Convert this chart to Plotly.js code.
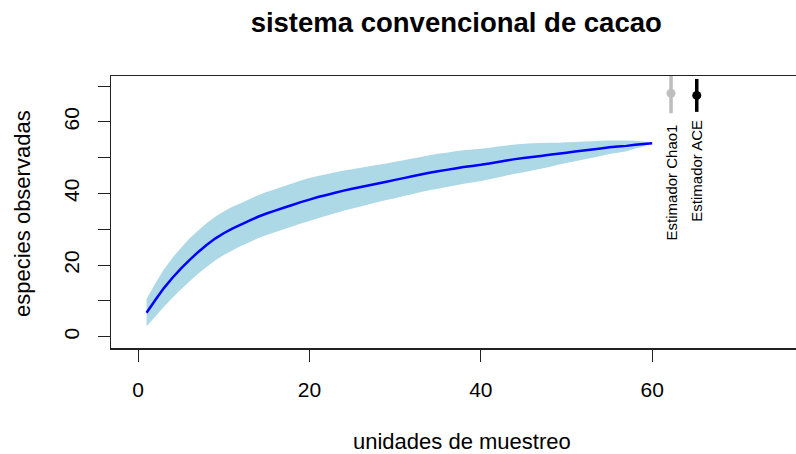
<!DOCTYPE html>
<html>
<head>
<meta charset="utf-8">
<script src="https://cdn.plot.ly/plotly-3.0.1.min.js"></script>
<style>
  html, body { margin: 0; padding: 0; background: #ffffff; }
  #plot { width: 796px; height: 454px; }
</style>
</head>
<body>
<div id="plot"></div>
<script>
// Species accumulation: sampling units, mean richness and its standard deviation
const sites = [1,2,3,4,5,6,7,8,9,10,11,12,13,14,15,16,17,18,19,20,
  21,22,23,24,25,26,27,28,29,30,31,32,33,34,35,36,37,38,39,40,
  41,42,43,44,45,46,47,48,49,50,51,52,53,54,55,56,57,58,59,60];

const richness = [6.7,10.2,13.5,16.4,19.0,21.4,23.6,25.6,27.4,28.9,
  30.2,31.3,32.4,33.5,34.4,35.2,36.0,36.8,37.6,38.3,
  39.0,39.6,40.2,40.8,41.3,41.8,42.3,42.8,43.3,43.8,
  44.3,44.8,45.3,45.8,46.2,46.6,47.0,47.4,47.7,48.0,
  48.4,48.8,49.2,49.6,49.9,50.2,50.5,50.8,51.1,51.4,
  51.7,52.0,52.3,52.6,52.9,53.1,53.3,53.6,53.8,54.0];

const sd = [1.9,2.3,2.6,2.8,2.9,3.0,3.0,3.05,3.05,3.05,
  3.05,3.0,3.0,3.0,3.0,3.0,3.0,3.0,3.0,3.0,
  2.95,2.9,2.85,2.8,2.75,2.7,2.65,2.6,2.55,2.55,
  2.5,2.5,2.45,2.45,2.45,2.4,2.4,2.35,2.3,2.25,
  2.2,2.15,2.1,2.05,2.0,1.9,1.8,1.7,1.55,1.45,
  1.35,1.25,1.15,1.05,0.95,0.85,0.75,0.55,0.35,0.0];

// Richness estimators: position on the x axis, estimate and error half-width
const estNames = ["Estimador Chao1", "Estimador ACE"];
const estX = [62.2, 65.2];
const estValue = [68.0, 67.4];
const estError = [5.6, 4.6];
const estColors = ["#bebebe", "#000000"];
const estLabelY = [43.1, 46.3];

const xTicks = [0, 20, 40, 60];
const yTicks = [0, 10, 20, 30, 40, 50, 60, 70];
const yTickText = ["0", "", "20", "", "40", "", "60", ""];

const FONT = "Liberation Sans, Arial, sans-serif";

const lower = richness.map((v, i) => v - 2 * sd[i]);
const upper = richness.map((v, i) => v + 2 * sd[i]);

const traces = [
  { x: sites, y: lower, type: "scatter", mode: "lines",
    line: { width: 0, color: "rgba(0,0,0,0)", simplify: false },
    hoverinfo: "skip", showlegend: false },
  { x: sites, y: upper, type: "scatter", mode: "lines", fill: "tonexty",
    fillcolor: "#add8e6", line: { width: 0, color: "rgba(0,0,0,0)", simplify: false },
    hoverinfo: "skip", showlegend: false },
  { x: sites, y: richness, type: "scatter", mode: "lines",
    line: { color: "#0000ff", width: 2.5, simplify: false },
    hoverinfo: "skip", showlegend: false }
];

estNames.forEach((name, i) => {
  traces.push({
    x: [estX[i]], y: [estValue[i]], type: "scatter", mode: "markers",
    marker: { color: estColors[i], size: 9 },
    error_y: { type: "data", array: [estError[i]], visible: true,
      color: estColors[i], thickness: 3.5, width: 0 },
    hoverinfo: "skip", showlegend: false, cliponaxis: true
  });
});

const annotations = estNames.map((name, i) => ({
  text: name, x: estX[i], y: estLabelY[i], xref: "x", yref: "y",
  textangle: -90, showarrow: false, xanchor: "center", yanchor: "middle",
  font: { family: FONT, size: 15, color: "#000" }
}));

annotations.push({
  text: "unidades de muestreo", xref: "paper", yref: "paper",
  x: 0.513, y: -0.345, xanchor: "center", yanchor: "middle", showarrow: false,
  font: { family: FONT, size: 22, color: "#000" }
});
annotations.push({
  text: "especies observadas", xref: "paper", yref: "paper",
  x: -0.13, y: 0.496, xanchor: "center", yanchor: "middle", showarrow: false,
  textangle: -90, font: { family: FONT, size: 22, color: "#000" }
});

const layout = {
  width: 796, height: 454,
  margin: { l: 111, r: 0, t: 76, b: 106, pad: 0 },
  paper_bgcolor: "#ffffff", plot_bgcolor: "#ffffff",
  font: { family: FONT, color: "#000" },
  title: {
    text: "<b>sistema convencional de cacao</b>",
    font: { family: FONT, size: 27.5, color: "#000" },
    x: 0.504, xref: "paper", xanchor: "center",
    y: 0.951, yref: "container", yanchor: "middle"
  },
  xaxis: {
    range: [-3.15, 76.78], showgrid: false, zeroline: false,
    showline: true, mirror: true, linecolor: "#222", linewidth: 1.5,
    ticks: "outside", ticklen: 12, tickwidth: 1, tickcolor: "#222",
    tickvals: xTicks, ticktext: xTicks.map(String),
    tickfont: { family: FONT, size: 21, color: "#000" },
    ticklabelstandoff: 10
  },
  yaxis: {
    range: [-3.16, 72.82], showgrid: false, zeroline: false,
    showline: true, mirror: false, linecolor: "#222", linewidth: 1.5,
    ticks: "outside", ticklen: 12, tickwidth: 1, tickcolor: "#222",
    tickvals: yTicks, ticktext: yTickText, tickangle: -90,
    tickfont: { family: FONT, size: 21, color: "#000" },
    ticklabelstandoff: 10
  },
  annotations: annotations,
  showlegend: false
};

Plotly.newPlot("plot", traces, layout, { displayModeBar: false, staticPlot: true });
</script>
</body>
</html>
